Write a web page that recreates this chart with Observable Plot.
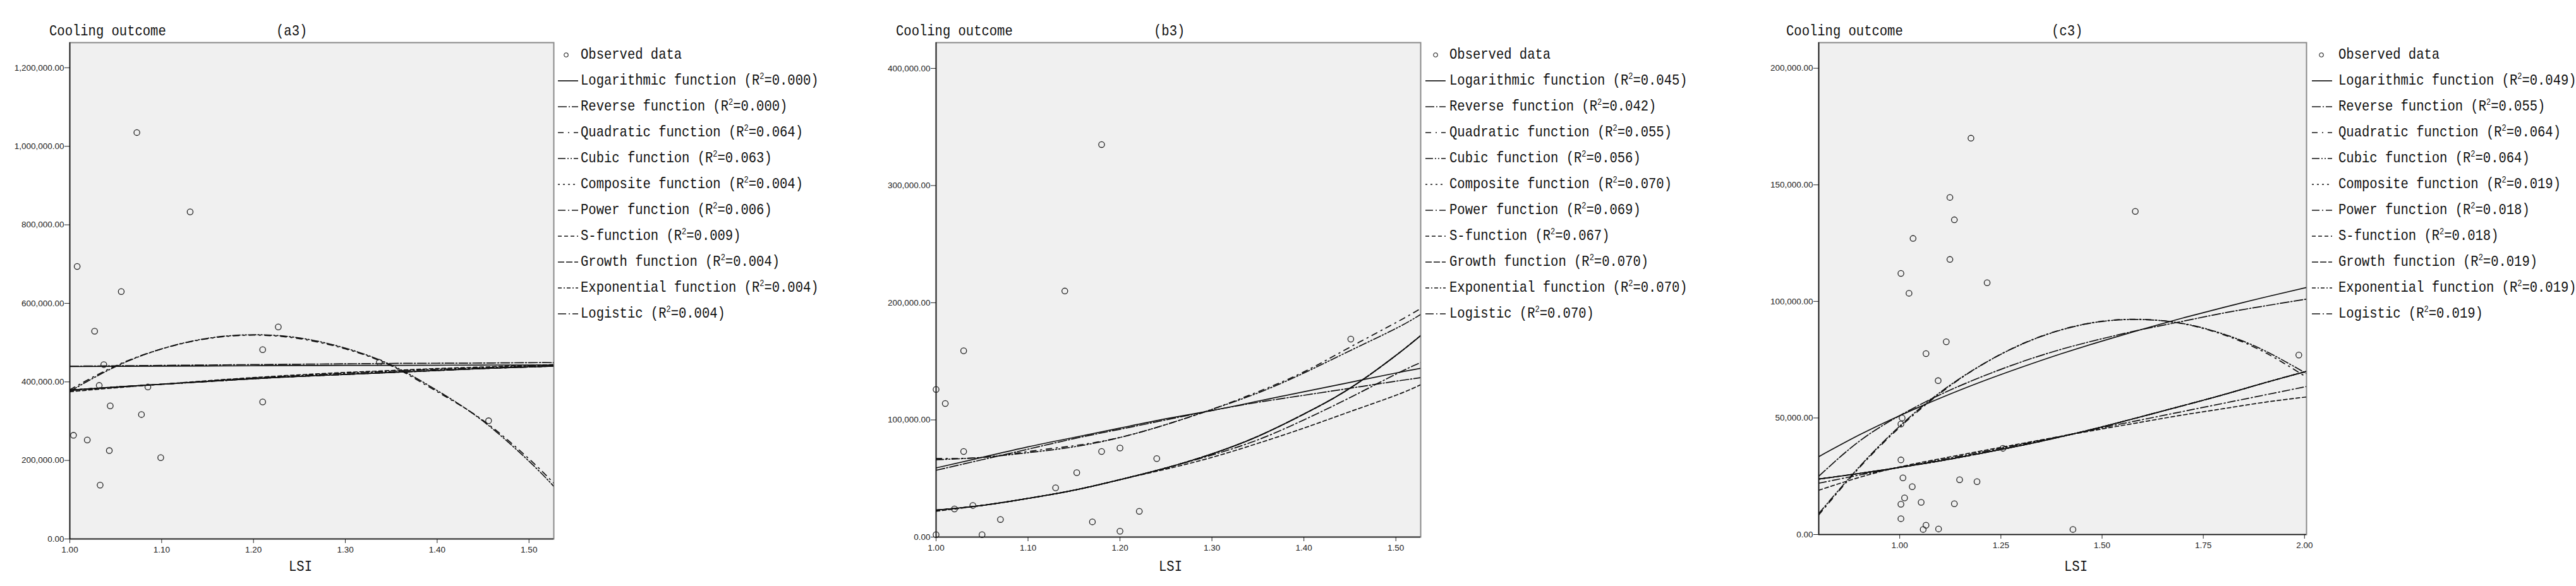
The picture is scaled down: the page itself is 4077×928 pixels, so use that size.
<!DOCTYPE html>
<html><head><meta charset="utf-8">
<script src="https://cdn.jsdelivr.net/npm/d3@7"></script>
<script src="https://cdn.jsdelivr.net/npm/@observablehq/plot@0.6"></script>
<style>
body{margin:0;background:#fff;}
#root{position:relative;width:4077px;height:928px;overflow:hidden;background:#fff;}
.panel{position:absolute;top:0;}
.mono{position:absolute;font-family:"Liberation Mono","DejaVu Sans Mono",monospace;font-size:24px;line-height:24px;color:#111;white-space:nowrap;transform:scaleX(0.855);transform-origin:0 50%;}
.mono sup{font-size:14px;position:relative;top:-9px;vertical-align:baseline;line-height:0;}
.sym{position:absolute;}
</style></head><body><div id="root"></div>
<script>
// ---------- data (series values in thousands) ----------
const fnNames = ["Logarithmic function","Reverse function","Quadratic function","Cubic function","Composite function","Power function","S-function","Growth function","Exponential function","Logistic"];
const aR2 = ["0.000","0.000","0.064","0.063","0.004","0.006","0.009","0.004","0.004","0.004"];
const bR2 = ["0.045","0.042","0.055","0.056","0.070","0.069","0.067","0.070","0.070","0.070"];
const cR2 = ["0.049","0.055","0.064","0.064","0.019","0.018","0.018","0.019","0.019","0.019"];

// panel a
const aPtsX = [1.073,1.131,1.008,1.056,1.027,1.037,1.032,1.085,1.044,1.078,1.004,1.019,1.043,1.099,1.033,1.210,1.227,1.210,1.337,1.456];
const aPtsY = [1035,833,694,630,529,444,391,387,339,317,264,252,225,207,137,482,540,349,450,301];
const aGrid = [1.00,1.05,1.10,1.15,1.20,1.25,1.30,1.35,1.40,1.45,1.50,1.527];
const aLog   = [439,439.5,440,440.5,441,441.5,442,442,442.5,443,443,443];
const aRev   = [440,441,442,443,444,445,446,447,447.5,448,449,449];
const aQuad  = [380,441,484,510,519,510,484,441,375,302,204,142];
const aCubic = [376,439,484,511,520,512,486,443,378,300,198,134];
const aExp   = [379,387,394,401,408,414,419,424,429,434,438,440];
const aPower = [378,386,394,402,410,416,422,427,432,436,440,442];
const aS     = [375,385,394,403,411,418,424,429,434,438,442,444];
const aYTicks = [0,200000,400000,600000,800000,1000000,1200000];
const aXTicks = [1.0,1.1,1.2,1.3,1.4,1.5];

// panel b
const bPtsX = [1.180,1.140,1.030,1.000,1.010,1.030,1.180,1.200,1.240,1.153,1.130,1.020,1.040,1.070,1.170,1.221,1.200,1.000,1.050,1.451];
const bPtsY = [335,210,159,126,114,73,73,76,67,55,42,24,27,15,13,22,5,2,2,169];
const bGrid = [1.00,1.05,1.10,1.15,1.20,1.25,1.30,1.35,1.40,1.45,1.50,1.527];
const bLog   = [59,68,77,85,93,101,108,116,124,132,140,144];
const bRev   = [57,66,75,84,92,100,108,115,121,127,133,136];
const bQuad  = [67,68,73,78,85,96,109,124,141,162,183,195];
const bCubic = [66,68,72,77,85,96,109,123,140,159,178,190];
const bExp   = [23,27,33,40,49,59,71,86,105,127,155,172];
const bPower = [23,27,33,40,49,59,70,83,100,119,139,149];
const bS     = [22,27,33,40,49,58,68,80,93,107,121,130];
const bYTicks = [0,100000,200000,300000,400000];
const bXTicks = [1.0,1.1,1.2,1.3,1.4,1.5];

// panel c
const cPtsX = [1.176,1.124,1.582,1.135,1.033,1.124,1.003,1.216,1.023,1.115,1.065,1.095,1.006,1.003,1.255,1.003,1.008,1.148,1.191,1.031,1.012,1.053,1.003,1.135,1.003,1.065,1.058,1.096,1.428,1.986];
const cPtsY = [170,144.6,138.6,135,127,118,112,108,103.5,82.7,77.6,66,50,47.4,37,32,24.3,23.5,22.7,20.5,15.7,13.8,13,13.2,6.8,4,2.2,2.4,2.2,77];
const cGrid = [0.80,0.90,1.00,1.10,1.20,1.30,1.40,1.50,1.60,1.70,1.80,1.90,2.005];
const cLog   = [33.4,42.7,51,58.5,65.4,71.7,77.6,83,88.1,92.9,97.4,101.7,106];
const cRev   = [25,40,51,60,67.5,74,79.5,84,88,91.5,95,98,101];
const cQuad  = [8.4,28.6,46,60.6,72.5,81.6,87.9,91.5,92.3,90.4,85.7,78.3,67.5];
const cCubic = [9,29,46.5,61,72.5,81.5,87.8,91.4,92.2,90.5,86,79,69];
const cExp   = [23.8,26.2,28.8,31.6,34.8,38.2,42,46.2,50.7,55.3,60,65,70];
const cPower = [22,25.5,28.8,32,35.3,38.7,42.2,45.8,49.3,52.8,56.3,59.8,63.5];
const cS     = [19,24.5,29,32.5,35.8,39,42.2,45.3,48.3,51.3,54,56.7,59];
const cYTicks = [0,50000,100000,150000,200000];
const cXTicks = [1.0,1.25,1.5,1.75,2.0];

// ---------- styles ----------
const dashes = [null,"14,3,2,3","9,7,2,7","12,3,2,3,2,3","3,5","12,4,2,4","6,4","10,3","6,3,2,3","13,4,2,4"];

const panels = [
  {left:0, w:880, ml:110, mr:4, mb:75, xd:[1.0,1.527], yd:[0,1264000], xt:aXTicks, yt:aYTicks,
   px:aPtsX, py:aPtsY, grid:aGrid, series:[aLog,aRev,aQuad,aCubic,aExp,aPower,aS,aExp,aExp,aExp], r2:aR2,
   title:78, tag:"(a3)", tagC:461, lsi:475, symX:883, dotX:896, textX:919},
  {left:1380, w:880, ml:101, mr:12, mb:78, xd:[1.0,1.527], yd:[0,422000], xt:bXTicks, yt:bYTicks,
   px:bPtsX, py:bPtsY, grid:bGrid, series:[bLog,bRev,bQuad,bCubic,bExp,bPower,bS,bExp,bExp,bExp], r2:bR2,
   title:1418, tag:"(b3)", tagC:1850, lsi:1852, symX:2256, dotX:2272, textX:2294},
  {left:2780, w:880, ml:98, mr:10, mb:82, xd:[0.8,2.005], yd:[0,211000], xt:cXTicks, yt:cYTicks,
   px:cPtsX, py:cPtsY, grid:cGrid, series:[cLog,cRev,cQuad,cCubic,cExp,cPower,cS,cExp,cExp,cExp], r2:cR2,
   title:2827, tag:"(c3)", tagC:3271, lsi:3285, symX:3659, dotX:3674, textX:3701}
];

const root = document.getElementById("root");
function addText(x, y, html){
  const d = document.createElement("div");
  d.className = "mono"; d.style.left = x+"px"; d.style.top = (y-12)+"px"; d.innerHTML = html;
  root.appendChild(d); return d;
}

panels.forEach(p => {
  const pts = p.px.map((x,i)=>({x, y:p.py[i]*1000}));
  const marks = [
    Plot.frame({fill:"#f0f0f0", stroke:"#8a8a8a", strokeWidth:2}),
    Plot.axisY({ticks:p.yt, tickFormat:d3.format(",.2f"), tickSize:8, tickPadding:1, label:null}),
    Plot.axisX({ticks:p.xt, tickFormat:d3.format(".2f"), tickSize:7, tickPadding:5, label:null}),
    Plot.ruleX([p.xd[0]], {stroke:"#111", strokeWidth:1.6}),
    Plot.ruleY([0], {stroke:"#111", strokeWidth:1.6})
  ];
  p.series.forEach((vals, k) => {
    const data = p.grid.map((x,i)=>({x, y:vals[i]*1000}));
    marks.push(Plot.line(data, {x:"x", y:"y", stroke:"#111", strokeWidth:1.7,
      strokeDasharray: dashes[k] || undefined, curve:"natural", clip:true}));
  });
  marks.push(Plot.dot(pts, {x:"x", y:"y", r:4.6, stroke:"#222", strokeWidth:1.3, fill:"none"}));
  const chart = Plot.plot({
    width:p.w, height:928, marginLeft:p.ml, marginRight:p.mr, marginTop:67, marginBottom:p.mb,
    x:{domain:p.xd, label:null}, y:{domain:p.yd, label:null},
    style:{fontFamily:"'Liberation Sans', Arial, sans-serif", fontSize:"13.5px", color:"#222", background:"transparent", overflow:"visible"},
    marks
  });
  const wrap = document.createElement("div");
  wrap.className = "panel"; wrap.style.left = p.left+"px";
  wrap.appendChild(chart); root.appendChild(wrap);

  addText(p.title, 50, "Cooling outcome");
  addText(p.tagC - 24, 50, p.tag);
  addText(p.lsi - 18, 898, "LSI");

  const rowY = i => 87 + i*41;
  const s0 = document.createElementNS("http://www.w3.org/2000/svg","svg");
  s0.setAttribute("width",14); s0.setAttribute("height",14); s0.setAttribute("class","sym");
  s0.style.left = (p.dotX-7)+"px"; s0.style.top = (rowY(0)-7)+"px";
  s0.innerHTML = '<circle cx="7" cy="7" r="3.2" fill="none" stroke="#222" stroke-width="1.1"/>';
  root.appendChild(s0);
  addText(p.textX, rowY(0), "Observed data");
  fnNames.forEach((name, k) => {
    const y = rowY(k+1);
    const s = document.createElementNS("http://www.w3.org/2000/svg","svg");
    s.setAttribute("width",34); s.setAttribute("height",10); s.setAttribute("class","sym");
    s.style.left = p.symX+"px"; s.style.top = (y-5)+"px";
    s.innerHTML = '<line x1="0" y1="5" x2="32" y2="5" stroke="#111" stroke-width="1.7"' + (dashes[k] ? ' stroke-dasharray="'+dashes[k]+'"' : '') + '/>';
    root.appendChild(s);
    addText(p.textX, y, name + " (R<sup>2</sup>=" + p.r2[k] + ")");
  });
});
</script></body></html>
